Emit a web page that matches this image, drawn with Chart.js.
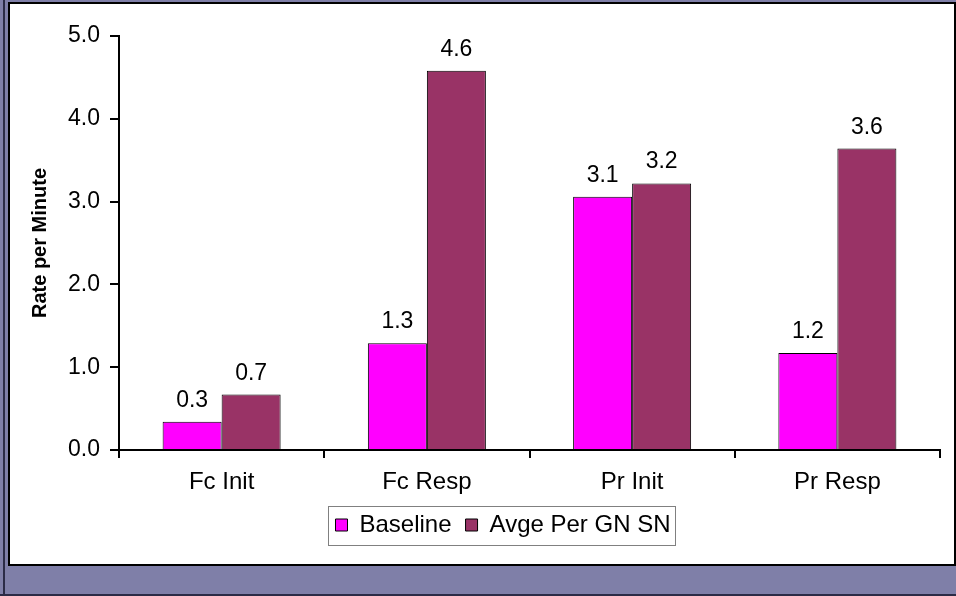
<!DOCTYPE html>
<html>
<head>
<meta charset="utf-8">
<script src="https://cdn.jsdelivr.net/npm/chart.js@4.4.1/dist/chart.umd.min.js"></script>
<style>
    body {
        margin: 0;
        width: 956px;
        height: 596px;
        overflow: hidden;
        position: relative;
        background: #7f7fa8;
        font-family: 'Liberation Sans', Arial, sans-serif;
    }
    .edge-left {
        position: absolute;
        left: 3px; top: 0;
        width: 2px; height: 596px;
        background: #2b2b46;
    }
    .edge-bottom {
        position: absolute;
        left: 0; top: 594px;
        width: 956px; height: 2px;
        background: #2b2b46;
    }
    .panel {
        position: absolute;
        left: 8px; top: 2px;
        width: 948px; height: 564px;
        box-sizing: border-box;
        border: 2px solid #000;
        background: #fff;
    }
    .chart-box {
        position: absolute;
        left: 10px; top: 4px;
        width: 944px; height: 560px;
    }
</style>
</head>
<body>
<div class="edge-left"></div>
<div class="edge-bottom"></div>
<div class="panel"></div>
<div class="chart-box"><canvas id="rateChart"></canvas></div>

<script>
// Chart data
const categories = ['Fc Init', 'Fc Resp', 'Pr Init', 'Pr Resp'];
const baseline = [0.34, 1.29, 3.06, 1.17];
const avgePerGnSn = [0.67, 4.58, 3.22, 3.64];
const yTicks = [0, 1, 2, 3, 4, 5];

const FONT = "'Liberation Sans', Arial, sans-serif";

// Value labels above each bar
const valueLabels = {
    id: 'valueLabels',
    afterDatasetsDraw(chart) {
        const ctx = chart.ctx;
        ctx.save();
        ctx.font = `23px ${FONT}`;
        ctx.fillStyle = '#000';
        ctx.textAlign = 'center';
        ctx.textBaseline = 'alphabetic';
        chart.data.datasets.forEach((ds, i) => {
            chart.getDatasetMeta(i).data.forEach((bar, j) => {
                ctx.fillText(ds.data[j].toFixed(1), bar.x, bar.y - 15);
            });
        });
        ctx.restore();
    }
};

// Nudge the legend row right, then frame it with a thin grey box
const legendFrame = {
    id: 'legendFrame',
    afterLayout(chart) {
        const lg = chart.legend;
        if (!lg) return;
        lg.left += 28;
        lg.right += 28;
    },
    afterDraw(chart) {
        const boxes = chart.legend && chart.legend.legendHitBoxes;
        if (!boxes || !boxes.length) return;
        const first = boxes[0];
        const last = boxes[boxes.length - 1];
        const cy = first.top + first.height / 2;
        const ctx = chart.ctx;
        ctx.save();
        ctx.strokeStyle = '#808080';
        ctx.lineWidth = 1;
        ctx.strokeRect(Math.round(first.left - 7) + 0.5, Math.round(cy - 19) + 0.5,
            Math.round(last.left + last.width - first.left + 12), 39);
        ctx.restore();
    }
};

const ctx = document.getElementById('rateChart').getContext('2d');
window.rateChart = new Chart(ctx, {
    type: 'bar',
    data: {
        labels: categories,
        datasets: [
            {
                label: 'Baseline',
                data: baseline,
                backgroundColor: '#ff00ff',
                borderColor: '#000',
                borderWidth: 1
            },
            {
                label: 'Avge Per GN SN',
                data: avgePerGnSn,
                backgroundColor: '#993366',
                borderColor: '#000',
                borderWidth: 1
            }
        ]
    },
    options: {
        responsive: true,
        maintainAspectRatio: false,
        animation: false,
        categoryPercentage: 0.575,
        barPercentage: 1,
        layout: { padding: { left: 0, right: 14, top: 32, bottom: 17 } },
        plugins: {
            tooltip: { enabled: false },
            legend: {
                position: 'bottom',
                labels: {
                    boxWidth: 12,
                    boxHeight: 12,
                    padding: 14,
                    color: '#000',
                    font: { family: FONT, size: 24 }
                }
            }
        },
        scales: {
            x: {
                offset: true,
                grid: {
                    offset: true,
                    drawOnChartArea: false,
                    color: '#000',
                    lineWidth: 2,
                    tickLength: 8
                },
                border: { color: '#000', width: 2 },
                ticks: {
                    color: '#000',
                    padding: 10,
                    font: { family: FONT, size: 24 }
                },
                afterFit: (scale) => { scale.height = 49; }
            },
            y: {
                min: 0,
                max: 5,
                afterBuildTicks: (scale) => { scale.ticks = yTicks.map(v => ({ value: v })); },
                grid: {
                    drawOnChartArea: false,
                    color: '#000',
                    lineWidth: 2,
                    tickLength: 9
                },
                border: { color: '#000', width: 2 },
                ticks: {
                    color: '#000',
                    padding: 10,
                    font: { family: FONT, size: 23 },
                    callback: (v) => Number(v).toFixed(1)
                },
                title: {
                    display: true,
                    text: 'Rate per Minute',
                    color: '#000',
                    padding: { top: 18, bottom: 0 },
                    font: { family: FONT, size: 20, weight: 'bold' }
                },
                afterFit: (scale) => { scale.width = 109; }
            }
        }
    },
    plugins: [valueLabels, legendFrame]
});
</script>
</body>
</html>
